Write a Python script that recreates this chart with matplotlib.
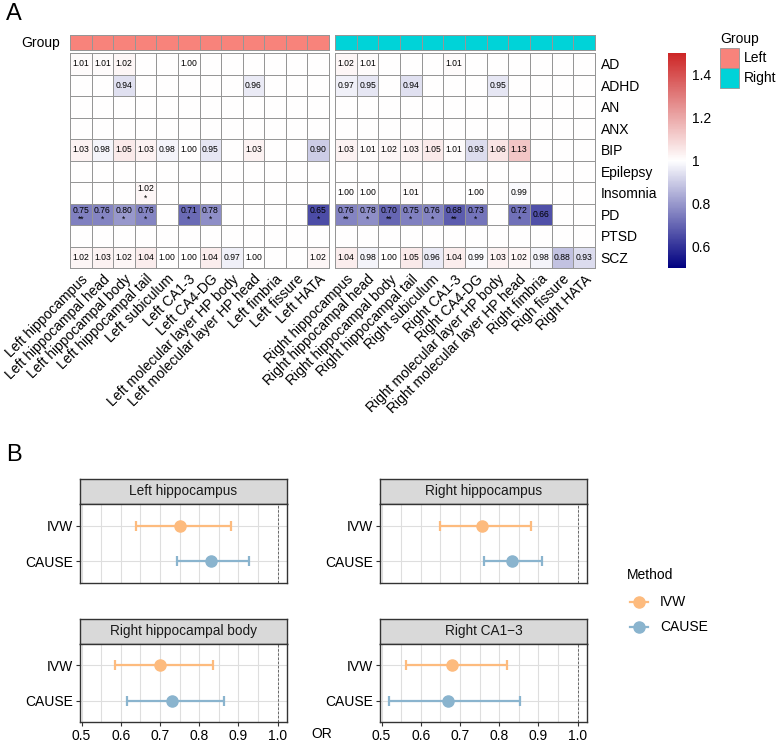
import numpy as np
import matplotlib
matplotlib.use('Agg')
import matplotlib.pyplot as plt
from matplotlib.colors import LinearSegmentedColormap, Normalize
from matplotlib.patches import Rectangle
from matplotlib.lines import Line2D
from matplotlib.cm import ScalarMappable

plt.rcParams['font.family'] = ['Liberation Sans', 'DejaVu Sans']

W, H = 778, 742
N = np.nan

diseases = ['AD', 'ADHD', 'AN', 'ANX', 'BIP', 'Epilepsy', 'Insomnia', 'PD', 'PTSD', 'SCZ']
left_regions = ['Left hippocampus', 'Left hippocampal head', 'Left hippocampal body',
                'Left hippocampal tail', 'Left subiculum', 'Left CA1-3', 'Left CA4-DG',
                'Left molecular layer HP body', 'Left molecular layer HP head',
                'Left fimbria', 'Left fissure', 'Left HATA']
right_regions = ['Right hippocampus', 'Right hippocampal head', 'Right hippocampal body',
                 'Right hippocampal tail', 'Right subiculum', 'Right CA1-3', 'Right CA4-DG',
                 'Right molecular layer HP body', 'Right molecular layer HP head',
                 'Right fimbria', 'Righ fissure', 'Right HATA']

# OR values (rows = diseases, cols = regions), NaN = not shown
left_or = [
    [1.01, 1.01, 1.02, N, N, 1.00, N, N, N, N, N, N],
    [N, N, 0.94, N, N, N, N, N, 0.96, N, N, N],
    [N] * 12,
    [N] * 12,
    [1.03, 0.98, 1.05, 1.03, 0.98, 1.00, 0.95, N, 1.03, N, N, 0.90],
    [N] * 12,
    [N, N, N, 1.02, N, N, N, N, N, N, N, N],
    [0.75, 0.76, 0.80, 0.76, N, 0.71, 0.78, N, N, N, N, 0.65],
    [N] * 12,
    [1.02, 1.03, 1.02, 1.04, 1.00, 1.00, 1.04, 0.97, 1.00, N, N, 1.02],
]
right_or = [
    [1.02, 1.01, N, N, N, 1.01, N, N, N, N, N, N],
    [0.97, 0.95, N, 0.94, N, N, N, 0.95, N, N, N, N],
    [N] * 12,
    [N] * 12,
    [1.03, 1.01, 1.02, 1.03, 1.05, 1.01, 0.93, 1.06, 1.13, N, N, N],
    [N] * 12,
    [1.00, 1.00, N, 1.01, N, N, 1.00, N, 0.99, N, N, N],
    [0.76, 0.78, 0.70, 0.75, 0.76, 0.68, 0.73, N, 0.72, 0.66, N, N],
    [N] * 12,
    [1.04, 0.98, 1.00, 1.05, 0.96, 1.04, 0.99, 1.03, 1.02, 0.98, 0.88, 0.93],
]
# significance marks for the rows that have them
left_stars = {
    'Insomnia': ['', '', '', '*', '', '', '', '', '', '', '', ''],
    'PD': ['**', '*', '*', '*', '', '*', '*', '', '', '', '', '*'],
}
right_stars = {
    'PD': ['**', '*', '**', '*', '*', '**', '*', '', '*', '', '', ''],
}

# forest plot data
panel_titles = ['Left hippocampus', 'Right hippocampus', 'Right hippocampal body', 'Right CA1\u22123']
ivw_or = [0.750, 0.756, 0.699, 0.680]
ivw_lo = [0.639, 0.648, 0.584, 0.563]
ivw_hi = [0.881, 0.880, 0.834, 0.820]
cause_or = [0.830, 0.832, 0.730, 0.670]
cause_lo = [0.743, 0.760, 0.616, 0.518]
cause_hi = [0.928, 0.910, 0.864, 0.852]

LEFT_COL = '#F8837B'
RIGHT_COL = '#00D3D8'
IVW_COL = '#FDBB7E'
CAUSE_COL = '#8AB4CE'
GRID_EDGE = '#969696'

cmap = LinearSegmentedColormap.from_list('orc', ['#000080', '#FFFFFF', '#CD2626'])
norm = Normalize(vmin=0.5, vmax=1.5)


def box(x0, y0, x1, y1):
    # pixel box -> figure fraction
    return [x0 / W, 1 - y1 / H, (x1 - x0) / W, (y1 - y0) / H]


fig = plt.figure(figsize=(W / 100, H / 100), dpi=100)


def draw_block(x0, x1, values, stars, regions, group_col):
    vals = np.array(values, dtype=float)
    nr, nc = vals.shape
    # group annotation bar
    gax = fig.add_axes(box(x0, 35, x1, 50))
    gm = gax.pcolormesh(np.arange(nc + 1), [0, 1], np.zeros((1, nc)),
                        cmap=LinearSegmentedColormap.from_list('g', [group_col, group_col]),
                        edgecolors=GRID_EDGE, linewidth=0.6)
    gm.set_clip_on(False)
    gax.set_xlim(0, nc)
    gax.set_ylim(0, 1)
    gax.axis('off')

    ax = fig.add_axes(box(x0, 53, x1, 268))
    shown = np.where(np.isnan(vals), 1.0, vals)
    mesh = ax.pcolormesh(np.arange(nc + 1), np.arange(nr + 1), shown, cmap=cmap, norm=norm,
                         edgecolors=GRID_EDGE, linewidth=0.6)
    mesh.set_clip_on(False)
    ax.set_xlim(0, nc)
    ax.set_ylim(nr, 0)
    for i in range(nr):
        row_st = stars.get(diseases[i], [''] * nc)
        for j in range(nc):
            v = vals[i, j]
            if np.isnan(v):
                continue
            if row_st[j]:
                ax.text(j + 0.5, i + 0.32, f'{v:.2f}', ha='center', va='center', fontsize=6.2)
                ax.text(j + 0.5, i + 0.74, row_st[j], ha='center', va='center', fontsize=6.2)
            else:
                ax.text(j + 0.5, i + 0.5, f'{v:.2f}', ha='center', va='center', fontsize=6.2)
    for s in ax.spines.values():
        s.set_visible(False)
    ax.set_yticks([])
    ax.set_xticks(np.arange(nc) + 0.5)
    ax.set_xticklabels(regions, rotation=45, ha='right', va='top',
                       rotation_mode='anchor', fontsize=10)
    ax.tick_params(axis='x', length=0, pad=3)
    return ax


draw_block(70, 329, left_or, left_stars, left_regions, LEFT_COL)
rax = draw_block(335, 595, right_or, right_stars, right_regions, RIGHT_COL)
rax.yaxis.tick_right()
rax.set_yticks(np.arange(len(diseases)) + 0.5)
rax.set_yticklabels(diseases, fontsize=10)
rax.tick_params(axis='y', length=0, pad=4)

# colour bar
cax = fig.add_axes(box(668, 53, 686, 268))
cb = fig.colorbar(ScalarMappable(norm=norm, cmap=cmap), cax=cax)
cb.outline.set_visible(False)
cb.set_ticks([0.6, 0.8, 1.0, 1.2, 1.4])
cb.set_ticklabels(['0.6', '0.8', '1', '1.2', '1.4'])
cax.tick_params(length=0, labelsize=10, pad=4)

# forest plots
panel_boxes = [(80, 287, 479, 504, 583), (380, 587, 479, 504, 583),
               (80, 287, 619, 644, 722), (380, 587, 619, 644, 722)]
for k, (x0, x1, ys, yp0, yp1) in enumerate(panel_boxes):
    sax = fig.add_axes(box(x0, ys, x1, yp0))
    sax.set_facecolor('#D9D9D9')
    sax.set_xticks([])
    sax.set_yticks([])
    for s in sax.spines.values():
        s.set_color('#333333')
        s.set_linewidth(1.0)
    sax.text(0.5, 0.5, panel_titles[k], ha='center', va='center', fontsize=9.8,
             color='#1A1A1A', transform=sax.transAxes)

    ax = fig.add_axes(box(x0, yp0, x1, yp1))
    ax.set_xlim(0.496, 1.024)
    ax.set_ylim(-0.6, 1.6)
    ax.set_xticks(np.arange(0.5, 1.01, 0.1))
    ax.set_xticks(np.arange(0.55, 1.0, 0.1), minor=True)
    ax.grid(True, which='both', color='#DEDEDE', linewidth=0.8)
    ax.set_axisbelow(True)
    ax.axvline(1.0, color='#555555', linestyle=(0, (3, 2)), linewidth=0.6)
    rows = [(1, ivw_or[k], ivw_lo[k], ivw_hi[k], IVW_COL),
            (0, cause_or[k], cause_lo[k], cause_hi[k], CAUSE_COL)]
    for y, est, lo, hi, col in rows:
        ax.errorbar([est], [y], xerr=[[est - lo], [hi - est]], fmt='o', color=col,
                    ms=8, elinewidth=1.6, capsize=3.5, capthick=1.6)
    ax.set_yticks([0, 1])
    ax.set_yticklabels(['CAUSE', 'IVW'], fontsize=10)
    ax.tick_params(axis='y', length=3, width=0.8, color='#333333', pad=2)
    ax.tick_params(axis='x', which='minor', length=0)
    if k >= 2:
        ax.set_xticklabels(['0.5', '0.6', '0.7', '0.8', '0.9', '1.0'], fontsize=10)
        ax.tick_params(axis='x', which='major', length=3, width=0.8, color='#333333', pad=2)
    else:
        ax.tick_params(axis='x', which='major', length=0, labelbottom=False)
    for s in ax.spines.values():
        s.set_color('#333333')
        s.set_linewidth(1.0)

# overlay for free text and legends (pixel coordinates)
ov = fig.add_axes([0, 0, 1, 1])
ov.set_xlim(0, W)
ov.set_ylim(H, 0)
ov.axis('off')
ov.text(6, 14, 'A', fontsize=17, ha='left', va='center')
ov.text(6, 455, 'B', fontsize=17, ha='left', va='center')
ov.text(60, 43, 'Group', fontsize=10, ha='right', va='center')
ov.text(322, 734, 'OR', fontsize=10, ha='center', va='center')

ov.text(720, 39, 'Group', fontsize=10, ha='left', va='center')
for label, col, yy in [('Left', LEFT_COL, 48), ('Right', RIGHT_COL, 68)]:
    ov.add_patch(Rectangle((720, yy), 19, 20, facecolor=col, edgecolor=GRID_EDGE, linewidth=0.6))
    ov.text(744, yy + 10, label, fontsize=10, ha='left', va='center')

ov.text(627, 575, 'Method', fontsize=10, ha='left', va='center')
for label, col, yy in [('IVW', IVW_COL, 602), ('CAUSE', CAUSE_COL, 627)]:
    ov.add_line(Line2D([630, 648], [yy, yy], color=col, linewidth=1.6))
    ov.add_line(Line2D([639], [yy], marker='o', ms=8, color=col))
    ov.text(660, yy, label, fontsize=10, ha='left', va='center')

fig.savefig('out.png', dpi=100)
